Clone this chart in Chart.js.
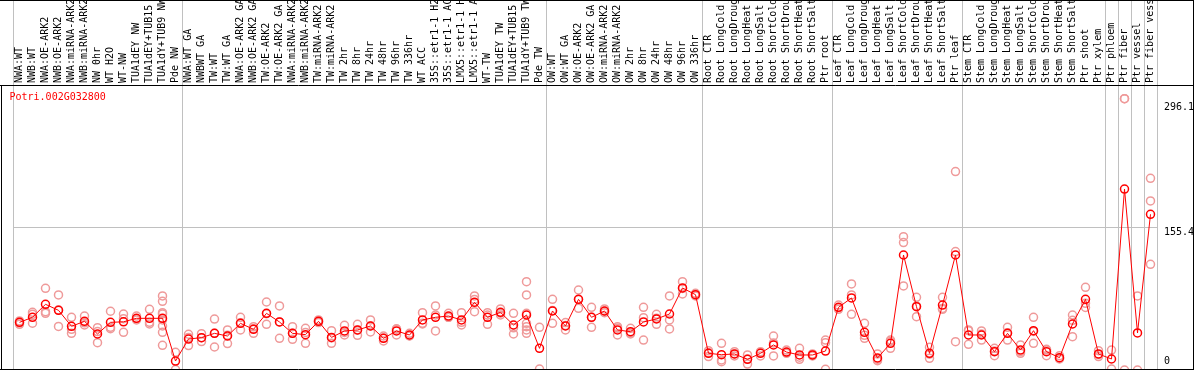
<!DOCTYPE html>
<html>
<head>
<meta charset="utf-8">
<script src="https://cdn.jsdelivr.net/npm/chart.js@4.4.1/dist/chart.umd.min.js"></script>
<style>
  html, body { margin: 0; padding: 0; background: #fff; }
  canvas { display: block; }
</style>
</head>
<body>
<canvas id="geneChart" width="1194" height="370"></canvas>
<script>
const geneId = 'Potri.002G032800';

const samples = [
    'NWA:WT', 'NWB:WT', 'NWA:OE-ARK2', 'NWB:OE-ARK2', 'NWA:miRNA-ARK2', 'NWB:miRNA-ARK2',
    'NW 0hr', 'WT H2O', 'WT-NW', 'TUA1dEY NW', 'TUA1dEY+TUB15 NW', 'TUA1dY+TUB9 NW', 'Pde NW',
    'NWA:WT GA', 'NWBWT GA', 'TW:WT', 'TW:WT GA', 'NWA:OE-ARK2 GA', 'NWB:OE-ARK2 GA',
    'TW:OE-ARK2', 'TW:OE-ARK2 GA', 'NWA:miRNA-ARK2 GA', 'NWB:miRNA-ARK2 GA', 'TW:miRNA-ARK2',
    'TW:miRNA-ARK2 GA', 'TW 2hr', 'TW 8hr', 'TW 24hr', 'TW 48hr', 'TW 96hr', 'TW 336hr', 'WT ACC',
    '35S::etr1-1 H2O', '35S::etr1-1 ACC', 'LMX5::etr1-1 H2O', 'LMX5::etr1-1 ACC', 'WT-TW',
    'TUA1dEY TW', 'TUA1dEY+TUB15 TW', 'TUA1dY+TUB9 TW', 'Pde TW',
    'OW:WT', 'OW:WT GA', 'OW:OE-ARK2', 'OW:OE-ARK2 GA', 'OW:miRNA-ARK2', 'OW:miRNA-ARK2 GA',
    'OW 2hr', 'OW 8hr', 'OW 24hr', 'OW 48hr', 'OW 96hr', 'OW 336hr',
    'Root CTR', 'Root LongCold', 'Root LongDrought', 'Root LongHeat', 'Root LongSalt',
    'Root ShortCold', 'Root ShortDrought', 'Root ShortHeat', 'Root ShortSalt', 'Ptr root',
    'Leaf CTR', 'Leaf LongCold', 'Leaf LongDrought', 'Leaf LongHeat', 'Leaf LongSalt',
    'Leaf ShortCold', 'Leaf ShortDrought', 'Leaf ShortHeat', 'Leaf ShortSalt', 'Ptr leaf',
    'Stem CTR', 'Stem LongCold', 'Stem LongDrought', 'Stem LongHeat', 'Stem LongSalt',
    'Stem ShortCold', 'Stem ShortDrought', 'Stem ShortHeat', 'Stem ShortSalt', 'Ptr shoot', 'Ptr xylem',
    'Ptr phloem', 'Ptr fiber', 'Ptr vessel', 'Ptr fiber vessel'
];

// mean expression per sample (red line)
const meanLevel = [
    52.0, 57.5, 71.7, 65.1, 47.7, 53.1, 39.3, 52.0, 52.6, 56.4, 56.4, 56.4, 9.8,
    33.8, 35.3, 40.0, 37.1, 50.9, 44.4, 61.8, 52.4, 40.0, 38.6, 53.1, 35.6, 42.6, 43.7, 48.0,
    34.6, 42.6, 38.2, 54.6, 57.5, 58.9, 54.6, 73.9, 57.5, 62.9, 49.1, 60.0, 23.6,
    64.4, 48.0, 77.1, 57.5, 64.4, 43.7, 41.8, 52.4, 55.7, 61.1, 89.5, 82.2,
    18.2, 16.7, 17.5, 11.6, 18.2, 27.3, 19.6, 16.4, 16.4, 20.7,
    68.4, 78.6, 41.1, 13.1, 29.1, 125.5, 69.1, 18.2, 70.9, 125.5,
    38.2, 38.2, 20.0, 40.0, 21.8, 42.9, 20.0, 13.5, 50.2, 77.1, 17.5,
    12.0, 197.4, 40.4, 169.9
];

// single replicates per sample (pale circles)
const replicates = [
    [53.5, 51.5, 49.9], [63.0, 60.8, 51.0], [89.1, 63.7, 61.8], [81.9, 65.5, 47.6],
    [57.5, 44.4, 40.0], [58.9, 51.5, 49.1], [46.2, 41.9, 29.8], [64.1, 46.6, 45.1],
    [61.1, 56.0, 41.1], [58.9, 56.0, 54.6], [66.2, 52.0, 50.2],
    [80.8, 75.0, 62.6, 61.1, 54.6, 48.0, 41.1, 26.9], [19.3, 0.5],
    [39.0, 35.5, 26.7], [39.6, 35.3, 31.0], [55.6, 40.0, 25.1], [43.7, 38.0, 28.8],
    [57.5, 51.5, 43.7], [47.3, 45.0, 40.0], [74.2, 61.5, 49.8], [69.9, 52.5, 34.6],
    [47.3, 40.0, 33.5], [45.5, 41.0, 29.1], [54.6, 53.0, 51.7], [42.9, 35.0, 29.1],
    [48.8, 41.0, 38.2], [49.8, 43.5, 37.8], [54.6, 48.0, 41.5], [37.1, 35.0, 31.7],
    [44.4, 45.0, 38.2], [40.0, 37.5, 37.1], [62.6, 50.9, 50.3], [69.9, 60.0, 42.6],
    [61.8, 57.5, 57.5], [62.6, 52.0, 49.1], [80.8, 77.0, 63.7], [62.6, 60.0, 49.8],
    [66.6, 62.0, 60.0], [61.8, 46.0, 39.3], [96.4, 81.9, 61.8, 50.9, 47.3, 43.7, 40.0],
    [46.6, 1.1],
    [77.1, 65.0, 50.9], [51.7, 48.5, 43.7], [87.3, 77.0, 67.3], [68.4, 57.5, 46.6],
    [66.6, 64.0, 62.6], [47.3, 45.5, 38.2], [45.5, 40.5, 39.3], [68.4, 57.1, 32.7],
    [60.8, 56.5, 49.8], [80.8, 54.6, 44.8], [96.4, 89.0, 83.0], [83.7, 82.0, 80.8],
    [21.1, 18.8, 14.6], [29.1, 10.9, 9.1], [20.0, 17.5, 15.3], [16.4, 12.0, 6.5],
    [20.0, 19.0, 15.3], [37.1, 29.5, 15.3], [21.8, 19.0, 18.2], [23.6, 14.0, 11.6],
    [17.5, 16.4, 15.3], [32.7, 29.8, 0.7],
    [70.9, 68.0, 66.2], [93.9, 81.9, 60.8], [50.9, 37.8, 34.6], [17.5, 11.6, 10.2],
    [32.7, 31.0, 23.6], [145.5, 139.0, 91.7], [79.3, 69.8, 58.2], [24.7, 17.2, 12.7],
    [79.3, 67.2, 66.2], [216.5, 129.2, 30.9],
    [43.7, 42.9, 28.0], [42.6, 39.3, 32.7], [23.6, 20.8, 15.6], [46.6, 40.7, 32.7],
    [27.3, 20.0, 18.2], [57.5, 42.1, 29.1], [21.8, 22.6, 15.6], [15.6, 12.9, 12.0],
    [60.0, 54.2, 36.4], [90.2, 72.8, 68.3], [21.1, 16.8, 14.6],
    [21.8, 1.1], [296.1, 296.1, 0], [80.8, 0], [209.2, 184.5, 115.3]
];

// values labelled on the right axis
const yTicks = [0, 155.4, 296.1];

// first sample of each block (a separator line goes before it)
const groupStarts = [0, 13, 41, 53, 63, 73, 84, 85, 86, 87];

const MONO = "'DejaVu Sans Mono', monospace";
const SEP = '#c0c0c0';

const repPoints = replicates.flatMap((vals, i) => vals.map(v => ({x: i, y: v})));

function isSeparator(ctx) {
    // last offset grid line (right edge) has no tick index
    if (ctx.index === undefined) return true;
    return groupStarts.includes(ctx.index);
}

function yLabelFont(ctx) {
    const v = ctx.tick ? ctx.tick.value : 1;
    let lh = '8.8px';
    if (v === 0) lh = '16.6px';
    else if (v > 200) lh = '17.2px';
    return {family: MONO, size: 10, lineHeight: lh};
}

const framePlugin = {
    id: 'frame',
    afterDraw(chart) {
        const c = chart.ctx;
        const top = chart.chartArea.top;
        const W = chart.width, H = chart.height;
        c.save();
        c.strokeStyle = '#000';
        c.lineWidth = 1;
        c.beginPath();
        c.moveTo(0, 0.5); c.lineTo(W, 0.5);
        c.moveTo(0, top + 0.5); c.lineTo(W, top + 0.5);
        c.moveTo(0, H - 0.5); c.lineTo(W, H - 0.5);
        c.moveTo(1.5, top); c.lineTo(1.5, H);
        c.moveTo(W - 0.5, 0); c.lineTo(W - 0.5, H);
        c.stroke();

        c.fillStyle = '#ff0000';
        c.font = '10px ' + MONO;
        c.textBaseline = 'middle';
        c.fillText(geneId, 9.5, top + 12);
        c.restore();
    }
};

new Chart(document.getElementById('geneChart'), {
    data: {
        labels: samples,
        datasets: [{
            type: 'line',
            data: meanLevel,
            borderColor: '#ff0000',
            borderWidth: 1,
            tension: 0,
            pointRadius: 4,
            pointBorderWidth: 1.5,
            pointBorderColor: '#ff0000',
            pointBackgroundColor: 'rgba(0,0,0,0)',
            order: 0
        }, {
            type: 'scatter',
            data: repPoints,
            xAxisID: 'x2',
            pointRadius: 4,
            pointBorderWidth: 1.5,
            pointBorderColor: '#ef9a9a',
            pointBackgroundColor: 'rgba(0,0,0,0)',
            order: 1
        }]
    },
    options: {
        responsive: false,
        animation: false,
        devicePixelRatio: 1,
        layout: {autoPadding: false, padding: {left: 13, right: 0, top: 0, bottom: 0}},
        plugins: {legend: {display: false}, tooltip: {enabled: false}},
        scales: {
            x: {
                type: 'category',
                position: 'top',
                offset: true,
                border: {display: false},
                grid: {
                    offset: true,
                    tickLength: 85,
                    color: ctx => isSeparator(ctx) ? SEP : 'rgba(0,0,0,0)',
                    tickColor: ctx => isSeparator(ctx) ? SEP : 'rgba(0,0,0,0)'
                },
                ticks: {
                    autoSkip: false,
                    minRotation: 90,
                    maxRotation: 90,
                    padding: -83,
                    labelOffset: 12,
                    color: '#000',
                    font: {family: MONO, size: 10}
                },
                afterFit(s) {
                    s.height = 85;
                    s.paddingLeft = 0;
                    s.paddingRight = 0;
                }
            },
            x2: {
                type: 'linear',
                display: false,
                min: -0.5,
                max: samples.length - 0.5
            },
            y: {
                position: 'right',
                min: 0,
                max: 311,
                border: {display: false},
                afterBuildTicks(s) {
                    s.ticks = yTicks.map(v => ({value: v}));
                },
                grid: {
                    drawTicks: false,
                    color: ctx => ctx.tick && ctx.tick.value === yTicks[1] ? SEP : 'rgba(0,0,0,0)'
                },
                ticks: {
                    padding: 7,
                    color: '#000',
                    // shift labels like the original: "0" sits above the base, the others below their value
                    callback: v => v === 0 ? ['0', ''] : ['', String(v)],
                    font: yLabelFont
                },
                afterFit(s) {
                    s.width = 37;
                    s.paddingTop = 0;
                    s.paddingBottom = 0;
                }
            }
        }
    },
    plugins: [framePlugin]
});
</script>
</body>
</html>
